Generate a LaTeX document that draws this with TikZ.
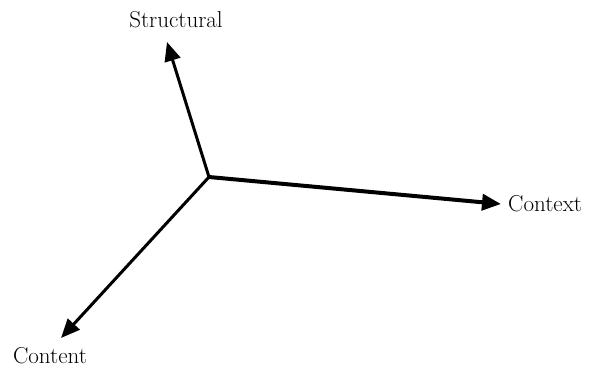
\documentclass[tikz,border=0pt]{standalone}
\usetikzlibrary{arrows.meta}
\begin{document}
\begin{tikzpicture}[x=1pt,y=-1pt,
  axis/.style={line width=3pt,-{Triangle[length=19pt,width=16pt]}},
  lbl/.style={font=\fontsize{23}{26}\selectfont,inner sep=0pt}]
\useasboundingbox (0,0) rectangle (589,368);
\coordinate (o) at (209,177);
\coordinate (s) at (167,42);
\coordinate (c) at (501,204);
\coordinate (n) at (61,338);
\draw[axis,line cap=round] (o) -- (s);
\draw[axis,line width=4pt] (o) -- (c);
\draw[axis,line cap=round] (o) -- (n);
\node[lbl] (ls) at (176,20) {Structural};
\node[lbl,anchor=west] (lc) at (508,204) {Context};
\node[lbl] (ln) at (50,356) {Content};
\end{tikzpicture}
\end{document}
